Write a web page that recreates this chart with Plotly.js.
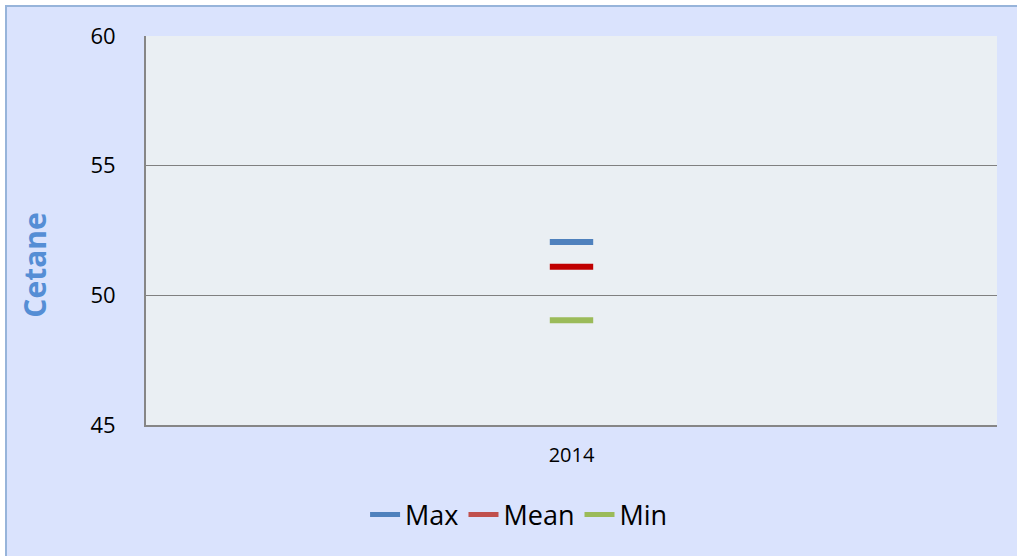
<!DOCTYPE html>
<html>
<head>
<meta charset="utf-8">
<script src="https://cdn.plot.ly/plotly-3.0.1.min.js"></script>
<style>
  html, body { margin: 0; padding: 0; background: #ffffff; overflow: hidden; }
  #chart { position: absolute; left: 5px; top: 5px; width: 1012px; height: 551px;
           border-left: 2px solid #97B4DA; border-top: 2px solid #97B4DA; box-sizing: border-box;
           background: #DAE3FD; }
</style>
</head>
<body>
<div id="chart"></div>
<script>
  // Data
  const categories = ['2014'];
  const seriesNames = ['Max', 'Mean', 'Min'];
  const maxValues = [52.06];
  const meanValues = [51.1];
  const minValues = [49.04];
  const yTicks = [45, 50, 55, 60];
  const yTitle = 'Cetane';

  const markColors = ['#4F81BD', '#C00000', '#9BBB59'];
  const legendColors = ['#4F81BD', '#C0504D', '#9BBB59'];
  const seriesValues = [maxValues, meanValues, minValues];

  const traces = [];
  seriesValues.forEach((vals, i) => {
    traces.push({
      type: 'scatter', mode: 'markers', x: categories, y: vals,
      name: seriesNames[i], showlegend: false, hoverinfo: 'y',
      marker: { symbol: 'line-ew', size: 31, color: markColors[i],
                line: { width: 6, color: markColors[i] } },
      cliponaxis: false
    });
  });
  seriesValues.forEach((vals, i) => {
    traces.push({
      type: 'scatter', mode: 'lines', x: categories, y: [null],
      name: seriesNames[i], showlegend: true, hoverinfo: 'skip',
      line: { color: legendColors[i], width: 5 }
    });
  });

  const layout = {
    width: 1010, height: 549,
    paper_bgcolor: '#DAE3FD',
    plot_bgcolor: '#EAEFF3',
    margin: { l: 139, r: 20, t: 29, b: 131 },
    font: { family: '"Open Sans", sans-serif', color: '#000000' },
    showlegend: true,
    legend: {
      orientation: 'h', xref: 'container', yref: 'container',
      x: 0.507, xanchor: 'center', y: 0.075, yanchor: 'middle',
      font: { size: 27, color: '#000000' }, bgcolor: 'rgba(0,0,0,0)',
      itemwidth: 30, tracegroupgap: 0
    },
    xaxis: {
      type: 'category', range: [-0.5, 0.5],
      showgrid: false, zeroline: false,
      showline: true, linecolor: '#868686', linewidth: 2,
      ticks: '', tickfont: { size: 20 }, ticklabelstandoff: 11
    },
    yaxis: {
      range: [45, 60], tickvals: yTicks, ticktext: yTicks.map(String),
      showgrid: true, gridcolor: '#808080', gridwidth: 1.5,
      zeroline: false, showline: true, linecolor: '#868686', linewidth: 2,
      ticks: '', tickfont: { size: 22 }, ticklabelstandoff: 24
    },
    annotations: [{
      text: yTitle, textangle: -90, showarrow: false,
      xref: 'paper', yref: 'paper', x: -0.131, y: 0.411,
      xanchor: 'center', yanchor: 'middle',
      font: { size: 30, color: '#558ED5', weight: 'bold' }
    }]
  };

  Plotly.newPlot('chart', traces, layout, { displayModeBar: false, staticPlot: true });
</script>
</body>
</html>
